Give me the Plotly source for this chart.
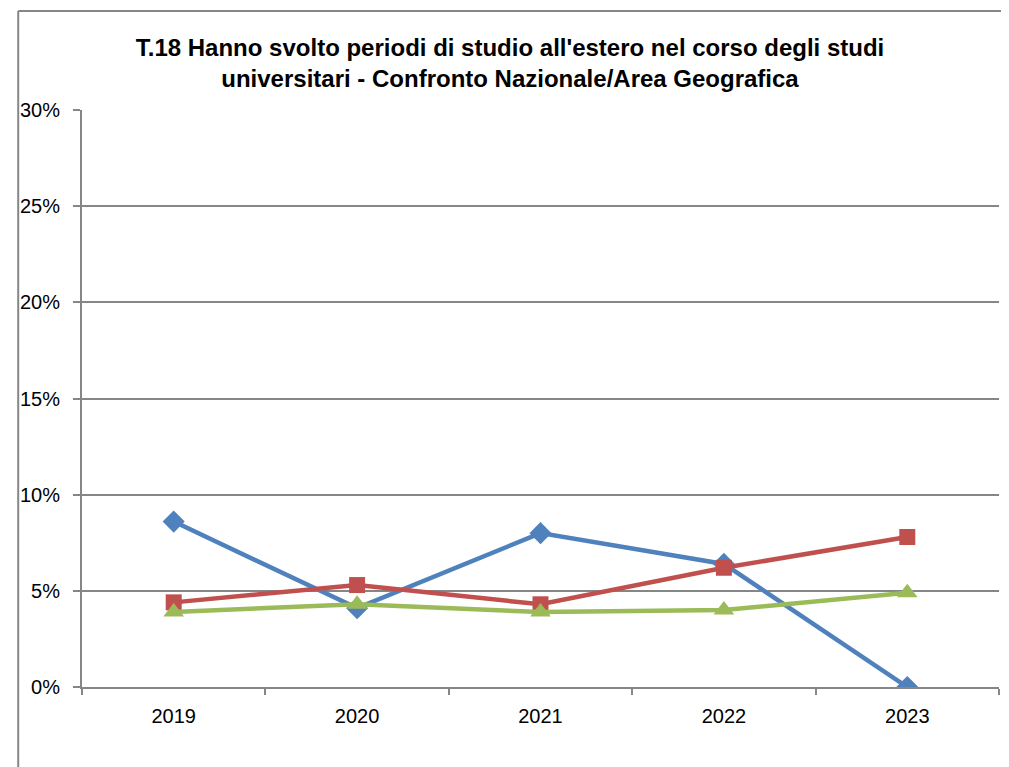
import plotly.graph_objects as go

years = ["2019", "2020", "2021", "2022", "2023"]
blue_vals = [8.6, 4.1, 8.0, 6.4, 0.0]
red_vals = [4.4, 5.3, 4.3, 6.2, 7.8]
green_vals = [3.9, 4.3, 3.9, 4.0, 4.9]
y_ticks = [0, 5, 10, 15, 20, 25, 30]
y_tick_labels = ["0%", "5%", "10%", "15%", "20%", "25%", "30%"]

title_text = ("T.18 Hanno svolto periodi di studio all'estero nel corso degli studi<br>"
              "universitari - Confronto Nazionale/Area Geografica")

FONT = "Liberation Sans, Arial, sans-serif"

fig = go.Figure()
fig.add_trace(go.Scatter(x=years, y=blue_vals, mode="lines+markers", name="A",
                         line=dict(color="#4F81BD", width=4.5),
                         marker=dict(symbol="diamond", size=17, color="#4F81BD")))
fig.add_trace(go.Scatter(x=years, y=red_vals, mode="lines+markers", name="B",
                         line=dict(color="#C0504D", width=4.5),
                         marker=dict(symbol="square", size=16, color="#C0504D")))
fig.add_trace(go.Scatter(x=years, y=green_vals, mode="lines+markers", name="C",
                         line=dict(color="#9BBB59", width=4.5),
                         marker=dict(symbol="triangle-up", size=18, color="#9BBB59")))

# page has an 8px body margin; compensate so the plot area lands at 79..999 x 110..687
fig.update_layout(
    width=1009, height=767,
    margin=dict(l=71, r=18, t=102, b=88),
    paper_bgcolor="white", plot_bgcolor="white",
    showlegend=False,
    font=dict(family=FONT, color="black"),
    title=dict(text=title_text, x=502 / 1009, xanchor="center",
               y=1 - 48 / 767, yanchor="top",
               font=dict(size=24, family=FONT, color="black", weight="bold")),
)
fig.update_xaxes(type="category", range=[-0.5, 4.5], tickson="boundaries",
                 ticks="outside", ticklen=6, tickcolor="#868686", tickwidth=1.5,
                 showline=True, linecolor="#868686", linewidth=2,
                 showgrid=False, tickfont=dict(size=20, color="black"),
                 ticklabelstandoff=10)
fig.update_yaxes(range=[0, 30], tickvals=y_ticks, ticktext=y_tick_labels,
                 ticks="outside", ticklen=7, tickcolor="#868686", tickwidth=1.5,
                 showline=True, linecolor="#868686", linewidth=2,
                 showgrid=True, gridcolor="#868686", gridwidth=1.5,
                 zeroline=False, tickfont=dict(size=20, color="black"),
                 ticklabelstandoff=9)

# outer chart border (top and left edges visible)
bx = (15 - 79) / 920
by = 1 + (110 - 11) / 577
fig.add_shape(type="line", xref="paper", yref="paper", x0=bx, x1=1.05, y0=by, y1=by,
              line=dict(color="#868686", width=2))
fig.add_shape(type="line", xref="paper", yref="paper", x0=bx, x1=bx, y0=by, y1=-0.2,
              line=dict(color="#868686", width=2))

fig.write_html("out.html")
